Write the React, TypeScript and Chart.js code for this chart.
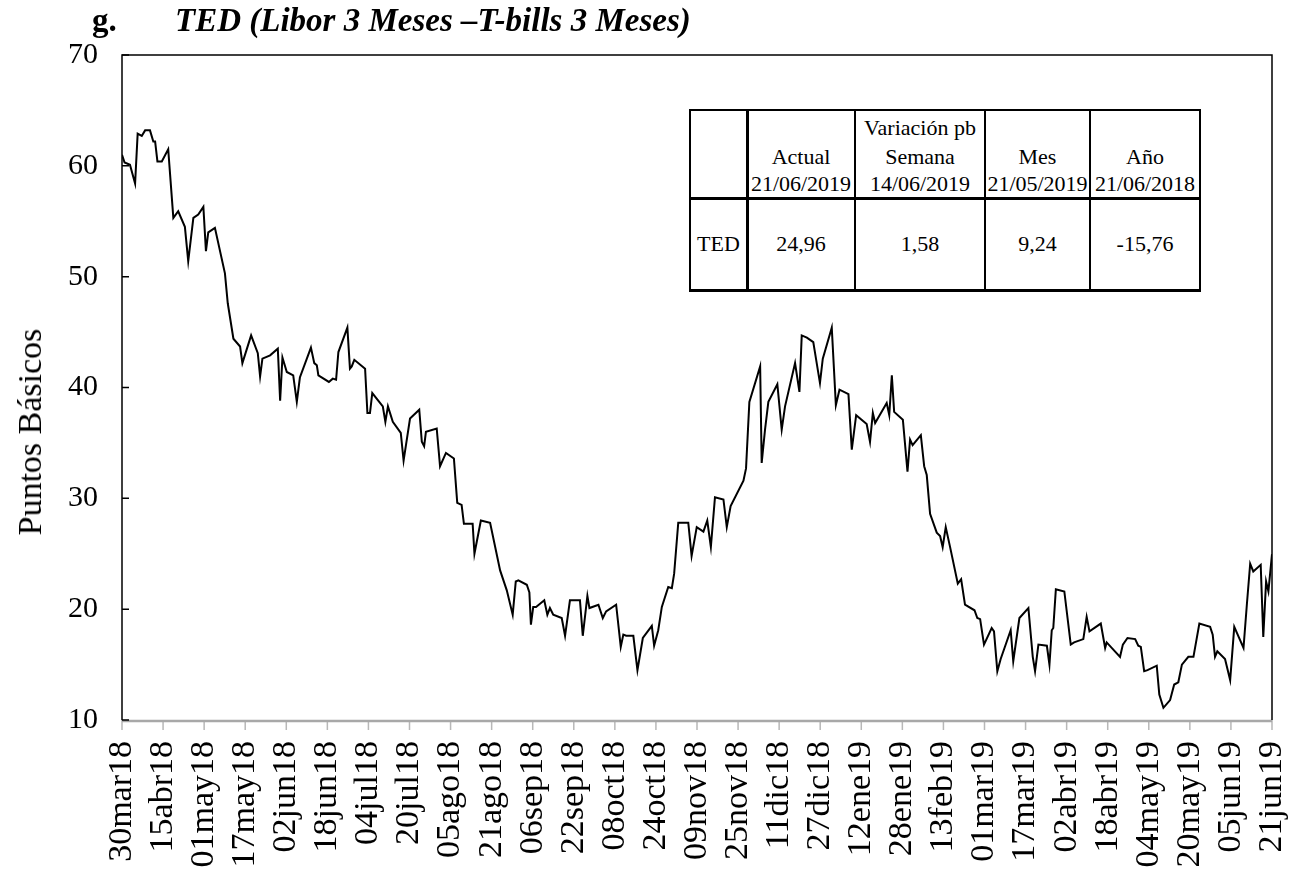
import React, { useEffect, useRef } from "react";
import { Chart, registerables } from "chart.js";

Chart.register(...registerables);

// X-axis tick labels, one every 16 calendar days from 30mar18
const tickLabels = [
  "30mar18", "15abr18", "01may18", "17may18", "02jun18", "18jun18", "04jul18",
  "20jul18", "05ago18", "21ago18", "06sep18", "22sep18", "08oct18", "24oct18",
  "09nov18", "25nov18", "11dic18", "27dic18", "12ene19", "28ene19", "13feb19",
  "01mar19", "17mar19", "02abr19", "18abr19", "04may19", "20may19", "05jun19",
  "21jun19",
];

// Observation day (calendar days since 30mar18) of each line vertex
const obsDay = [
  0, 1, 3.1, 5.1, 6.1, 7.7, 9.0, 10.9, 12.2, 12.9, 13.8, 15.5, 18.0, 20.0, 21.9, 24.5,
  25.8, 27.8, 29.7, 31.7, 32.7, 33.6, 36.2, 40.1, 41.2, 43.4, 46.0, 46.9, 50.3, 52.9,
  53.8, 54.7, 57.7, 60.7, 61.6, 62.5, 64.2, 66.7, 68.1, 69.3, 73.6, 74.9, 75.9, 76.5,
  80.6, 82.1, 83.4, 84.3, 87.8, 88.8, 89.5, 90.5, 94.7, 95.6, 96.6, 97.5, 101.6, 102.6,
  103.6, 105.5, 108.6, 109.7, 112.2, 115.8, 116.8, 117.7, 118.4, 122.6, 123.9, 126.2,
  129.3, 130.6, 132.3, 133.2, 136.6, 137.3, 139.8, 143.4, 147.3, 149.9, 152.2, 153.4,
  154.4, 157.7, 158.7, 159.3, 160.2, 161.3, 164.5, 165.7, 166.7, 168.0, 171.3, 172.6,
  174.5, 178.4, 179.5, 181.3, 182.1, 185.6, 187.3, 188.6, 192.5, 194.3, 195.3, 196.4,
  199.2, 200.8, 202.9, 206.4, 207.3, 208.9, 210.3, 212.8, 214.2, 215.1, 216.7, 220.6,
  221.9, 223.9, 226.5, 228.0, 229.4, 231.0, 234.3, 235.6, 237.1, 242.1, 243.1, 244.4,
  248.6, 249.2, 250.5, 251.8, 255.3, 257.0, 258.3, 262.2, 263.9, 264.8, 266.8, 269.3,
  271.9, 273.0, 276.5, 278.1, 279.5, 283.0, 284.3, 286.0, 290.1, 291.4, 292.5, 293.4,
  297.9, 298.9, 299.9, 300.8, 304.2, 306.0, 307.0, 308.0, 311.2, 312.5, 313.5, 314.8,
  317.4, 318.7, 319.7, 320.9, 322.6, 325.6, 326.9, 328.4, 332.1, 333.2, 334.3, 335.8,
  338.8, 339.7, 341.0, 342.3, 346.2, 347.2, 349.6, 353.1, 354.8, 355.7, 357.0, 360.3,
  361.3, 362.2, 362.8, 363.8, 367.1, 369.6, 370.9, 374.5, 375.8, 376.9, 381.3, 383.0,
  383.6, 388.8, 389.9, 391.7, 394.7, 395.9, 396.9, 398.2, 399.5, 403.1, 404.1, 405.7,
  408.3, 409.9, 411.5, 412.9, 415.4, 417.4, 419.7, 423.9, 424.9, 425.8, 426.7, 429.7,
  431.7, 433.3, 436.9, 438.2, 439.5, 440.7, 443.6, 444.6, 445.7, 446.6, 448,
];

// TED spread (basis points) at each vertex
const tedValues = [
  61.0, 60.3, 60.1, 58.4, 62.9, 62.7, 63.2, 63.2, 62.2, 62.2, 60.4, 60.4, 61.5, 55.3, 55.9, 54.5,
  51.4, 55.3, 55.6, 56.3, 52.3, 54.0, 54.4, 50.3, 47.6, 44.4, 43.7, 42.2, 44.7, 43.1,
  41.0, 42.6, 42.9, 43.5, 38.8, 42.7, 41.4, 41.1, 38.7, 40.9, 43.6, 42.2, 42.0, 41.1,
  40.5, 40.8, 40.7, 43.2, 45.4, 41.7, 41.9, 42.5, 41.7, 37.7, 37.7, 39.5, 38.3, 36.9,
  38.3, 36.9, 35.9, 33.4, 37.2, 38.0, 35.1, 34.7, 36.0, 36.3, 32.9, 34.1,
  33.6, 29.6, 29.4, 27.7, 27.7, 25.0, 28.0, 27.8, 23.5, 21.7, 19.5, 22.5,
  22.6, 22.2, 21.5, 18.6, 20.2, 20.2, 20.8, 19.5, 20.1, 19.5, 19.2, 17.6,
  20.8, 20.8, 17.6, 21.2, 20.1, 20.4, 19.2, 19.8, 20.4, 16.6, 17.7, 17.6,
  17.6, 14.5, 17.4, 18.5, 16.7, 18.1, 20.2, 22.0, 21.9, 23.2, 27.8, 27.8,
  24.8, 27.4, 27.0, 28.0, 25.6, 30.1, 29.9, 27.4, 29.3, 31.6, 32.7, 38.7,
  41.9, 33.2, 36.2, 38.7, 40.3, 36.2, 38.3, 42.2, 39.6, 44.7, 44.5, 44.1,
  40.4, 42.6, 45.4, 38.4, 39.8, 39.4, 34.4, 37.5, 36.7, 35.1, 37.7, 36.8,
  38.6, 37.5, 41.1, 37.8, 37.1, 32.4, 35.3, 34.8, 35.7, 32.9, 32.1, 28.6,
  26.9, 26.6, 25.6, 27.4, 25.6, 22.3, 22.7, 20.4, 19.9, 19.2, 19.1, 16.8,
  18.3, 18.0, 14.4, 15.5, 18.1, 15.3, 19.2, 20.1, 15.7, 14.4, 16.8, 16.7,
  15.0, 18.1, 18.3, 21.8, 21.6, 16.8, 17.0, 17.3, 19.3, 18.0, 18.7, 16.5,
  17.0, 15.7, 16.8, 17.4, 17.3, 16.7, 16.6, 14.4, 14.5, 14.9, 12.3, 11.1,
  11.8, 13.2, 13.4, 15.0, 15.7, 15.7, 18.7, 18.4, 17.7, 15.7, 16.2, 15.5,
  13.6, 18.4, 16.5, 20.4, 24.1, 23.4, 24.0, 17.5, 22.5, 21.6, 24.96,
];

// Summary table
const tableHeaderTop = ["", "", "Variación pb", "", ""];
const tableHeaderMid = ["", "Actual", "Semana", "Mes", "Año"];
const tableHeaderDates = ["", "21/06/2019", "14/06/2019", "21/05/2019", "21/06/2018"];
const tableRow = ["TED", "24,96", "1,58", "9,24", "-15,76"];

const SERIF = "'Liberation Serif', 'Times New Roman', serif";

const framePlugin = {
  id: "frame",
  afterDatasetsDraw(chart: any) {
    const { ctx, chartArea: a, scales } = chart;
    ctx.save();
    // x ticks (outside, grey)
    ctx.strokeStyle = "#b8b8b8";
    ctx.lineWidth = 1.5;
    ctx.beginPath();
    scales.x.ticks.forEach((t: any) => {
      const px = scales.x.getPixelForValue(t.value);
      ctx.moveTo(px, a.bottom);
      ctx.lineTo(px, a.bottom + 10);
    });
    ctx.stroke();
    ctx.strokeStyle = "#a8a8a8";
    ctx.lineWidth = 2.5;
    ctx.beginPath();
    ctx.moveTo(a.left, a.bottom + 1);
    ctx.lineTo(a.right, a.bottom + 1);
    ctx.stroke();
    // frame
    ctx.strokeStyle = "#000";
    ctx.lineWidth = 1.5;
    ctx.beginPath();
    ctx.moveTo(a.left, a.bottom);
    ctx.lineTo(a.left, a.top);
    ctx.lineTo(a.right, a.top);
    ctx.lineTo(a.right, a.bottom);
    ctx.stroke();
    // y ticks (inside)
    ctx.beginPath();
    scales.y.ticks.forEach((t: any) => {
      const py = scales.y.getPixelForValue(t.value);
      ctx.moveTo(a.left, py);
      ctx.lineTo(a.left + 7, py);
    });
    ctx.stroke();
    ctx.restore();
  },
};

function TedChart() {
  const ref = useRef<HTMLCanvasElement | null>(null);
  useEffect(() => {
    if (!ref.current) return;
    const points = obsDay.map((d, i) => ({ x: d, y: tedValues[i] }));
    const chart = new Chart(ref.current, {
      type: "line",
      data: {
        datasets: [
          {
            data: points,
            borderColor: "#000",
            borderWidth: 2,
            pointRadius: 0,
            tension: 0,
            fill: false,
          },
        ],
      },
      options: {
        animation: false,
        responsive: false,
        layout: { padding: { left: 0, right: 28, top: 55, bottom: 0 } },
        plugins: { legend: { display: false }, tooltip: { enabled: false } },
        scales: {
          x: {
            type: "linear",
            min: 0,
            max: 448,
            grid: { display: false, drawTicks: false },
            border: { display: false },
            afterFit: (s: any) => {
              s.height = 152;
              s.paddingLeft = 0;
              s.paddingRight = 0;
            },
            ticks: {
              stepSize: 16,
              autoSkip: false,
              minRotation: 90,
              maxRotation: 90,
              padding: 21,
              color: "#000",
              font: { family: SERIF, size: 34 },
              callback: (v: any) => {
                const i = Math.round(Number(v) / 16);
                return tickLabels[i] ?? "";
              },
            },
          },
          y: {
            min: 10,
            max: 70,
            grid: { display: false, drawTicks: false },
            border: { display: false },
            afterFit: (s: any) => {
              s.width = 122;
              s.paddingTop = 0;
              s.paddingBottom = 0;
            },
            ticks: {
              stepSize: 10,
              padding: 24,
              color: "#000",
              font: { family: SERIF, size: 30 },
            },
          },
        },
      },
      plugins: [framePlugin],
    });
    return () => chart.destroy();
  }, []);
  return <canvas ref={ref} width={1300} height={872} style={{ display: "block" }} />;
}

const colEdges = [690, 747, 855, 985, 1090, 1200];
const rowEdges = [110, 198, 290];

function SummaryTable() {
  const cells: any[] = [];
  for (let c = 0; c < 5; c++) {
    const left = colEdges[c];
    const width = colEdges[c + 1] - left;
    cells.push(
      <div
        key={"h" + c}
        style={{
          position: "absolute",
          left,
          top: rowEdges[0],
          width,
          height: rowEdges[1] - rowEdges[0],
          display: "flex",
          flexDirection: "column",
          justifyContent: "flex-end",
          alignItems: "center",
          paddingBottom: 1,
          boxSizing: "border-box",
          lineHeight: "29px",
          whiteSpace: "nowrap",
        }}
      >
        <div>{tableHeaderTop[c] || "\u00a0"}</div>
        <div>{tableHeaderMid[c] || "\u00a0"}</div>
        <div style={{ lineHeight: "26px" }}>{tableHeaderDates[c] || "\u00a0"}</div>
      </div>
    );
    cells.push(
      <div
        key={"r" + c}
        style={{
          position: "absolute",
          left,
          top: rowEdges[1],
          width,
          height: rowEdges[2] - rowEdges[1],
          display: "flex",
          alignItems: "center",
          justifyContent: "center",
        }}
      >
        {tableRow[c]}
      </div>
    );
  }
  const lines: any[] = [];
  colEdges.forEach((x, i) => {
    const w = i === 1 ? 3 : 2;
    lines.push(
      <div
        key={"v" + i}
        style={{
          position: "absolute",
          left: x - w / 2,
          top: rowEdges[0] - 1,
          width: w,
          height: rowEdges[2] - rowEdges[0] + 2,
          background: "#000",
        }}
      />
    );
  });
  rowEdges.forEach((y, i) => {
    const h = i === 0 ? 2 : 3;
    lines.push(
      <div
        key={"hl" + i}
        style={{
          position: "absolute",
          left: colEdges[0] - 1,
          top: y - h / 2,
          width: colEdges[5] - colEdges[0] + 2,
          height: h,
          background: "#000",
        }}
      />
    );
  });
  return (
    <div
      style={{
        position: "absolute",
        left: 0,
        top: 0,
        fontFamily: SERIF,
        fontSize: 22,
        color: "#000",
      }}
    >
      <div
        style={{
          position: "absolute",
          left: colEdges[0],
          top: rowEdges[0],
          width: colEdges[5] - colEdges[0],
          height: rowEdges[2] - rowEdges[0],
          background: "#fff",
        }}
      />
      {cells}
      {lines}
    </div>
  );
}

export default function App() {
  return (
    <div
      style={{
        position: "absolute",
        left: 0,
        top: 0,
        width: 1300,
        height: 872,
        background: "#fff",
        overflow: "hidden",
      }}
    >
      <TedChart />
      <div
        style={{
          position: "absolute",
          left: 92,
          top: 2,
          fontFamily: SERIF,
          fontSize: 33,
          fontWeight: "bold",
          color: "#000",
          whiteSpace: "nowrap",
        }}
      >
        g.
      </div>
      <div
        style={{
          position: "absolute",
          left: 175,
          top: 2,
          fontFamily: SERIF,
          fontSize: 33,
          fontWeight: "bold",
          fontStyle: "italic",
          color: "#000",
          whiteSpace: "nowrap",
        }}
      >
        TED (Libor 3 Meses –T-bills 3 Meses)
      </div>
      <div
        style={{
          position: "absolute",
          left: 30,
          top: 432,
          transform: "translate(-50%, -50%) rotate(-90deg)",
          fontFamily: SERIF,
          fontSize: 34,
          color: "#000",
          whiteSpace: "nowrap",
          lineHeight: 1,
        }}
      >
        Puntos Básicos
      </div>
      <SummaryTable />
    </div>
  );
}
